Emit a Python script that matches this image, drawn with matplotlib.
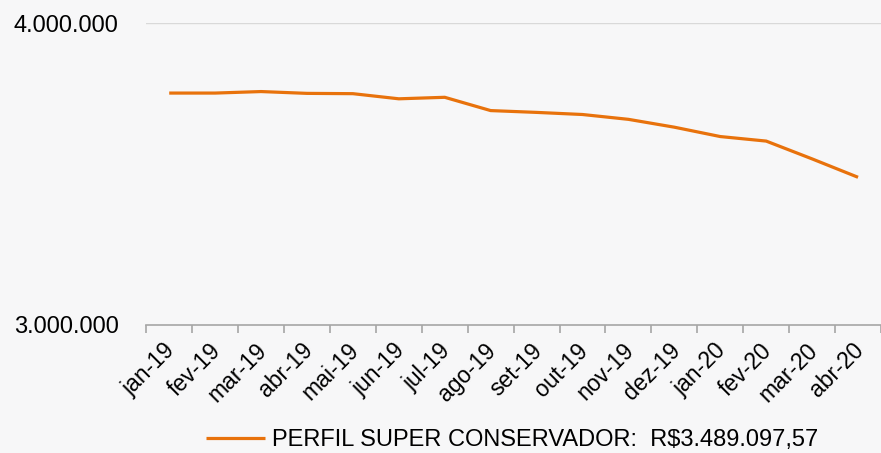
import matplotlib
matplotlib.use("Agg")
import matplotlib.pyplot as plt
import matplotlib.transforms as mtransforms
import numpy as np
from matplotlib.ticker import FuncFormatter, FixedLocator

plt.rcParams['font.family'] = ['Liberation Sans', 'DejaVu Sans']

months = ["jan-19", "fev-19", "mar-19", "abr-19", "mai-19", "jun-19", "jul-19", "ago-19",
          "set-19", "out-19", "nov-19", "dez-19", "jan-20", "fev-20", "mar-20", "abr-20"]
values = [3768000, 3768000, 3773000, 3767000, 3766000, 3749000, 3754000, 3710000,
          3704000, 3697000, 3681000, 3655000, 3624000, 3609000, 3550000, 3489097.57]
series_label = "PERFIL SUPER CONSERVADOR:  R$3.489.097,57"
yticks = [3000000, 4000000]

fig = plt.figure(figsize=(8.81, 4.53), dpi=100)
fig.patch.set_facecolor('#f7f7f8')
ax = fig.add_axes([0.166, 0.2826, 0.834, 0.6666])
ax.set_facecolor('#f7f7f8')

x = np.arange(len(months))
line, = ax.plot(x, values, color='#E8720C', linewidth=2.3, solid_capstyle='butt',
                label=series_label)

ax.set_xlim(-0.5, len(months) - 0.5)
ax.set_ylim(3000000, 4000000)
ax.set_yticks(yticks)
ax.yaxis.set_major_formatter(FuncFormatter(lambda v, p: f"{int(v):,}".replace(",", ".")))
ax.tick_params(axis='y', length=0, pad=20, labelsize=17)
ax.axhline(4000000, color='#d9d9d9', linewidth=1.0, zorder=0)

ax.set_xticks(x)
ax.set_xticklabels(months, rotation=45, ha='right', rotation_mode='anchor', fontsize=16.5)
ax.tick_params(axis='x', which='major', length=0, pad=10)
offset = mtransforms.ScaledTranslation(-6 / 100, 0, fig.dpi_scale_trans)
for lbl in ax.get_xticklabels():
    lbl.set_transform(lbl.get_transform() + offset)
ax.xaxis.set_minor_locator(FixedLocator(np.arange(-0.5, len(months) + 0.5, 1)))
ax.tick_params(axis='x', which='minor', length=6, width=1.2, color='#a6a6a6', direction='out')

for s in ['top', 'right', 'left']:
    ax.spines[s].set_visible(False)
ax.spines['bottom'].set_color('#a6a6a6')
ax.spines['bottom'].set_linewidth(1.2)

fig.legend(handles=[line], loc='center', bbox_to_anchor=(0.581, 0.029), frameon=False,
           fontsize=17, handlelength=2.5, handletextpad=0.3, borderpad=0, borderaxespad=0)

fig.savefig("out.png", dpi=100, facecolor=fig.get_facecolor())
